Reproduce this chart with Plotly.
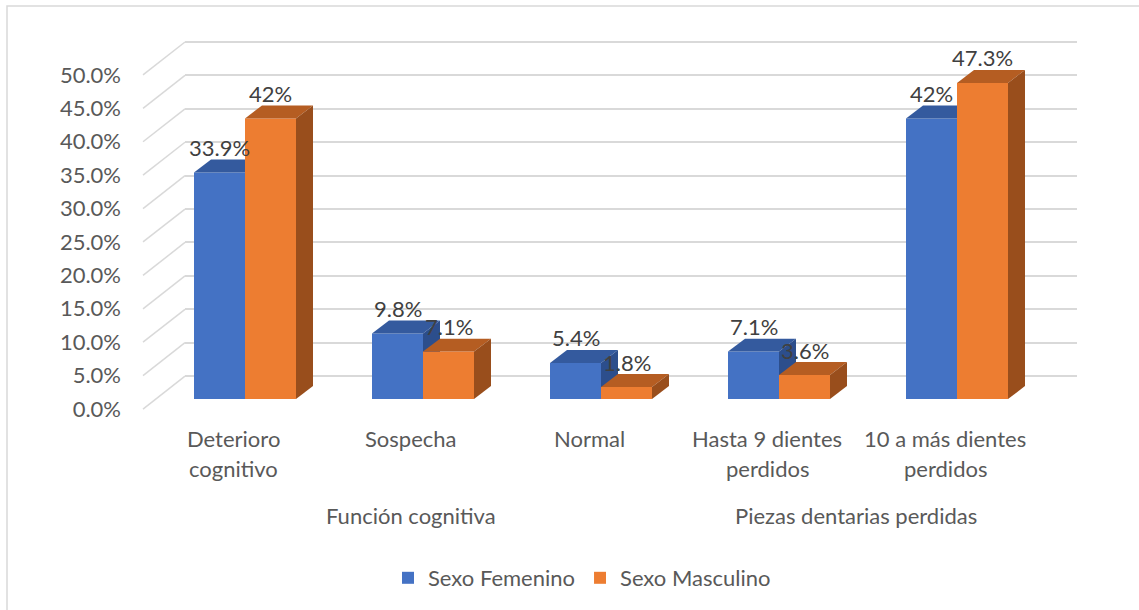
import plotly.graph_objects as go

# ---------------- data ----------------
categories = [["Deterioro", "cognitivo"], ["Sospecha"], ["Normal"],
              ["Hasta 9 dientes", "perdidos"], ["10 a más dientes", "perdidos"]]
group_labels = ["Función cognitiva", "Piezas dentarias perdidas"]
group_members = [[0, 1, 2], [3, 4]]
series_names = ["Sexo Femenino", "Sexo Masculino"]
femenino = [33.9, 9.8, 5.4, 7.1, 42.0]
masculino = [42.0, 7.1, 1.8, 3.6, 47.3]
tick_values = [0, 5, 10, 15, 20, 25, 30, 35, 40, 45, 50]
tick_labels = ["0.0%", "5.0%", "10.0%", "15.0%", "20.0%", "25.0%", "30.0%",
               "35.0%", "40.0%", "45.0%", "50.0%"]

# ---------------- geometry / style ----------------
W, H = 1139, 610
L, R, T, B = 185, 1077, 30, 425        # plot area in pixels
PW, PH = R - L, B - T
K = 6.7                                 # px per percentage point
CAT0, CAT_STEP = 245, 178               # px of first category centre, spacing
BAR_W = 51 / CAT_STEP                   # bar width in category units
DX = 17 / CAT_STEP                      # depth offset (x) in category units
DY = 13 / K                             # depth offset (y) in % units
P0_BARS, P0_BACK, P0_FRONT = 400, 377, 410

FONT = "Lato, 'Open Sans', sans-serif"
FS = 22
TXT = "#595959"
GRID = "#D9D9D9"
C_BLUE = ["#4472C4", "#345A9E", "#2C4E8C"]     # front, top, side
C_ORNG = ["#ED7D31", "#B55D22", "#994E1C"]


def yrange(p0):
    return [(p0 - B) / K, (p0 - T) / K]


def px2paper_x(px):
    return (px - L) / PW


def px2paper_y(py):
    return (B - py) / PH


xr = [(L - CAT0) / CAT_STEP, (R - CAT0) / CAT_STEP]
xs = list(range(len(categories)))

fig = go.Figure()


def add_series(values, name, colors, offset, yaxis):
    # front faces as real bars
    fig.add_trace(go.Bar(x=xs, y=values, name=name, width=BAR_W, offset=offset,
                         marker=dict(color=colors[0], line=dict(width=0)),
                         yaxis=yaxis, showlegend=True, hoverinfo="skip"))
    # top and side faces
    for xi, v in zip(xs, values):
        xl = xi + offset
        xrr = xl + BAR_W
        fig.add_trace(go.Scatter(
            x=[xl, xrr, xrr + DX, xl + DX, xl], y=[v, v, v + DY, v + DY, v],
            mode="lines", fill="toself", fillcolor=colors[1],
            line=dict(width=0, color=colors[1]), yaxis=yaxis,
            showlegend=False, hoverinfo="skip"))
        fig.add_trace(go.Scatter(
            x=[xrr, xrr, xrr + DX, xrr + DX, xrr], y=[0, v, v + DY, DY, 0],
            mode="lines", fill="toself", fillcolor=colors[2],
            line=dict(width=0, color=colors[2]), yaxis=yaxis,
            showlegend=False, hoverinfo="skip"))


add_series(femenino, series_names[0], C_BLUE, -BAR_W, "y")
add_series(masculino, series_names[1], C_ORNG, 0.0, "y4")

annotations = []
# data labels
for vals, off, yref in [(femenino, -BAR_W / 2, "y"), (masculino, BAR_W / 2, "y4")]:
    for xi, v in zip(xs, vals):
        annotations.append(dict(x=xi + off, y=v, xref="x", yref=yref,
                                text=f"{v:g}%", showarrow=False, yshift=25,
                                xanchor="center", yanchor="middle",
                                font=dict(family=FONT, size=FS, color="#404040")))
# category labels
for xi, lines in zip(xs, categories):
    for j, line in enumerate(lines):
        annotations.append(dict(x=xi, y=px2paper_y(440 + 30 * j), xref="x", yref="paper",
                                text=line, showarrow=False, xshift=-12,
                                xanchor="center", yanchor="middle",
                                font=dict(family=FONT, size=FS, color=TXT)))
# group labels
for label, members in zip(group_labels, group_members):
    xc = sum(members) / len(members)
    annotations.append(dict(x=xc, y=px2paper_y(517), xref="x", yref="paper",
                            text=label, showarrow=False, xshift=-12,
                            xanchor="center", yanchor="middle",
                            font=dict(family=FONT, size=FS, color=TXT)))

shapes = []
# diagonal depth lines from front axis to back wall
for v in tick_values:
    shapes.append(dict(type="line", xref="paper", yref="y2",
                       x0=px2paper_x(143), x1=0,
                       y0=v - (P0_FRONT - P0_BACK) / K, y1=v,
                       line=dict(color=GRID, width=1.5), layer="below"))
# chart border
shapes.append(dict(type="rect", xref="paper", yref="paper",
                   x0=px2paper_x(7), x1=px2paper_x(W + 20),
                   y0=px2paper_y(H + 20), y1=px2paper_y(6),
                   line=dict(color=GRID, width=1.5), fillcolor="rgba(0,0,0,0)"))

fig.update_layout(
    width=W, height=H,
    margin=dict(l=L, r=W - R, t=T, b=H - B),
    paper_bgcolor="white", plot_bgcolor="white",
    font=dict(family=FONT, size=FS, color=TXT),
    barmode="overlay",
    showlegend=True,
    hovermode=False,
    legend=dict(orientation="h", x=px2paper_x(582), y=px2paper_y(578),
                xanchor="center", yanchor="middle", itemwidth=30,
                font=dict(family=FONT, size=FS, color=TXT),
                itemclick=False, itemdoubleclick=False),
    xaxis=dict(range=xr, showgrid=False, zeroline=False, showticklabels=False,
               showline=False, fixedrange=True),
    yaxis=dict(range=yrange(P0_BARS), showgrid=False, zeroline=False,
               showticklabels=False, showline=False),
    yaxis2=dict(range=yrange(P0_BACK), overlaying="y", tickvals=tick_values,
                showgrid=True, gridcolor=GRID, gridwidth=1.5, zeroline=False,
                showticklabels=False, showline=False),
    yaxis3=dict(range=yrange(P0_FRONT), overlaying="y", tickvals=tick_values,
                ticktext=tick_labels, showgrid=False, zeroline=False,
                showline=False, ticks="", ticklabelstandoff=63,
                tickfont=dict(family=FONT, size=FS, color=TXT)),
    yaxis4=dict(range=yrange(P0_BARS), overlaying="y", showgrid=False,
                zeroline=False, showticklabels=False, showline=False),
    annotations=annotations,
    shapes=shapes,
)

# dummy traces so that y2 / y3 axes are drawn
fig.add_trace(go.Scatter(x=[None], y=[None], yaxis="y2", showlegend=False, hoverinfo="skip"))
fig.add_trace(go.Scatter(x=[None], y=[None], yaxis="y3", showlegend=False, hoverinfo="skip"))

fig.write_html("out.html", config={"displayModeBar": False},
               post_script="document.body.style.margin='0';")
